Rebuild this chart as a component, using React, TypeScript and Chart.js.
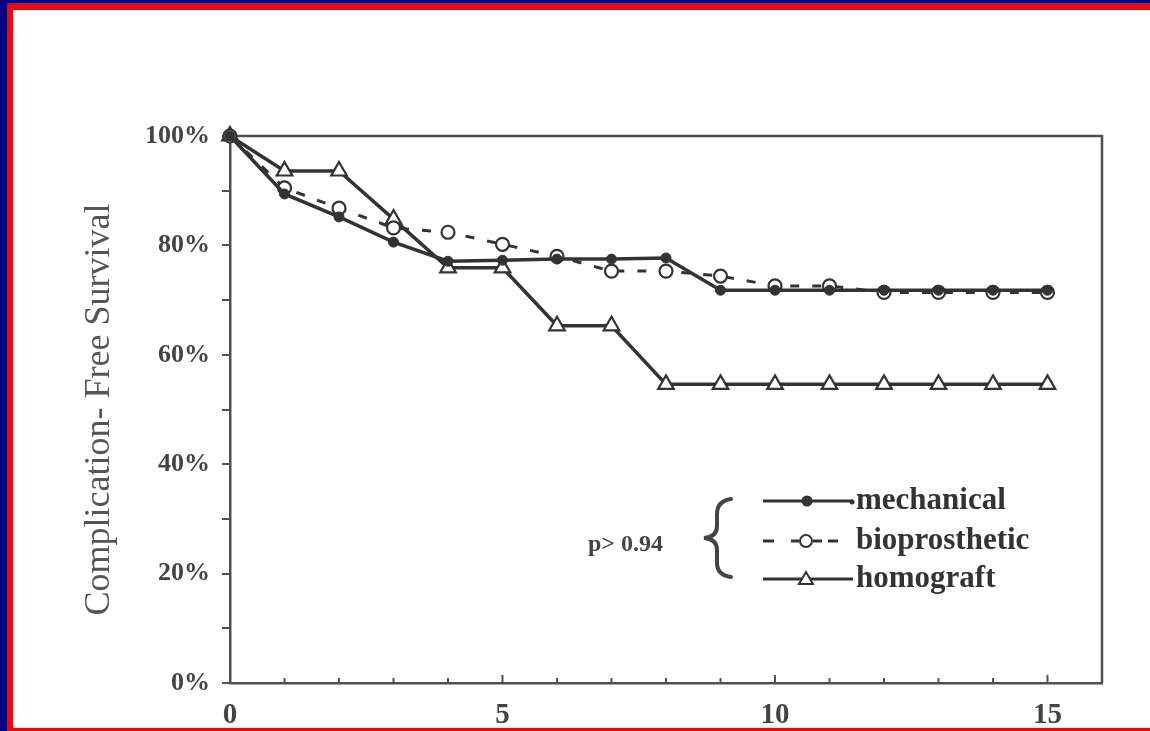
import React, { useEffect, useRef } from 'react';
import { Chart, registerables } from 'chart.js';

Chart.register(...registerables);

// ---- data ----
const years = [0, 1, 2, 3, 4, 5, 6, 7, 8, 9, 10, 11, 12, 13, 14, 15];
const mechanical = [100, 89.4, 85.2, 80.6, 77.1, 77.3, 77.5, 77.5, 77.7, 71.8, 71.8, 71.8, 71.8, 71.8, 71.8, 71.8];
const bioprosthetic = [100, 90.5, 86.8, 83.2, 82.4, 80.2, 78.0, 75.3, 75.3, 74.4, 72.6, 72.6, 71.4, 71.4, 71.4, 71.4];
const homograft = [100, 93.6, 93.6, 84.8, 75.9, 75.9, 65.3, 65.3, 54.6, 54.6, 54.6, 54.6, 54.6, 54.6, 54.6, 54.6];
const seriesNames = ['mechanical', 'bioprosthetic', 'homograft'];
const xLabelYears = [0, 5, 10, 15];
const yLabelValues = [0, 20, 40, 60, 80, 100];
const yAxisTitle = 'Complication- Free Survival';
const pValueText = 'p> 0.94';

const INK = '#333333';
const AXIS = '#505050';
const SERIF = '"Liberation Serif", "Times New Roman", serif';

const toPoints = (vals: number[]) => years.map((x, i) => ({ x, y: vals[i] }));

const boxAndTicks = {
  id: 'boxAndTicks',
  beforeDatasetsDraw(chart: any) {
    const { ctx, chartArea } = chart;
    const xs = chart.scales.x;
    ctx.save();
    ctx.strokeStyle = AXIS;
    ctx.lineWidth = 2.5;
    ctx.beginPath();
    ctx.moveTo(chartArea.left, chartArea.top);
    ctx.lineTo(chartArea.right, chartArea.top);
    ctx.lineTo(chartArea.right, chartArea.bottom);
    ctx.stroke();
    ctx.lineWidth = 2;
    for (let v = 1; v <= 15; v++) {
      const px = xs.getPixelForValue(v);
      const len = v % 5 === 0 ? 8 : 5;
      ctx.beginPath();
      ctx.moveTo(px, chartArea.bottom);
      ctx.lineTo(px, chartArea.bottom - len);
      ctx.stroke();
    }
    ctx.restore();
  },
};

const customLegend = {
  id: 'customLegend',
  afterDraw(chart: any) {
    const { ctx } = chart;
    ctx.save();
    // p value
    ctx.fillStyle = '#444';
    ctx.font = `bold 24px ${SERIF}`;
    ctx.textAlign = 'left';
    ctx.textBaseline = 'middle';
    ctx.fillText(pValueText, 588, 545);

    // brace
    ctx.strokeStyle = '#444';
    ctx.lineWidth = 4;
    ctx.lineCap = 'round';
    ctx.beginPath();
    ctx.moveTo(731, 499);
    ctx.quadraticCurveTo(717, 501, 717, 514);
    ctx.lineTo(717, 526);
    ctx.quadraticCurveTo(717, 537, 704, 538);
    ctx.quadraticCurveTo(717, 539, 717, 550);
    ctx.lineTo(717, 563);
    ctx.quadraticCurveTo(717, 575, 731, 577);
    ctx.stroke();

    const rows = [501, 541, 579];
    const x0 = 763;
    const x1 = 853;
    ctx.strokeStyle = INK;
    ctx.lineCap = 'butt';

    // mechanical
    ctx.lineWidth = 3;
    ctx.beginPath();
    ctx.moveTo(x0, rows[0]);
    ctx.lineTo(x1, rows[0]);
    ctx.stroke();
    ctx.fillStyle = INK;
    ctx.beginPath();
    ctx.arc(807, rows[0], 5.5, 0, Math.PI * 2);
    ctx.fill();
    ctx.beginPath();
    ctx.arc(852, rows[0] + 1, 2.5, 0, Math.PI * 2);
    ctx.fill();

    // bioprosthetic
    ctx.lineWidth = 3;
    const dashes = [[763, 774], [791, 799], [813, 822], [828, 838]];
    dashes.forEach(([a, b]) => {
      ctx.beginPath();
      ctx.moveTo(a, rows[1]);
      ctx.lineTo(b, rows[1]);
      ctx.stroke();
    });
    ctx.fillStyle = '#fff';
    ctx.lineWidth = 2;
    ctx.beginPath();
    ctx.arc(806, rows[1], 6, 0, Math.PI * 2);
    ctx.fill();
    ctx.stroke();

    // homograft
    ctx.lineWidth = 3;
    ctx.beginPath();
    ctx.moveTo(x0, rows[2]);
    ctx.lineTo(x1, rows[2]);
    ctx.stroke();
    ctx.fillStyle = '#fff';
    ctx.lineWidth = 2;
    ctx.beginPath();
    ctx.moveTo(806, rows[2] - 7);
    ctx.lineTo(813, rows[2] + 5);
    ctx.lineTo(799, rows[2] + 5);
    ctx.closePath();
    ctx.fill();
    ctx.stroke();

    // labels
    ctx.fillStyle = '#333';
    ctx.font = `bold 31px ${SERIF}`;
    ctx.textBaseline = 'middle';
    seriesNames.forEach((name, i) => ctx.fillText(name, 856, rows[i]));
    ctx.restore();
  },
};

export default function App() {
  const ref = useRef<HTMLCanvasElement | null>(null);

  useEffect(() => {
    if (!ref.current) return;
    const chart = new Chart(ref.current, {
      type: 'line',
      data: {
        datasets: [
          {
            label: seriesNames[0],
            data: toPoints(mechanical),
            borderColor: INK,
            backgroundColor: INK,
            borderWidth: 3.5,
            pointRadius: 5,
            pointBackgroundColor: INK,
            pointBorderColor: INK,
            pointBorderWidth: 1,
            clip: false,
          },
          {
            label: seriesNames[1],
            data: toPoints(bioprosthetic),
            borderColor: INK,
            borderWidth: 3,
            borderDash: [9, 13],
            pointRadius: 6.5,
            pointBackgroundColor: '#ffffff',
            pointBorderColor: INK,
            pointBorderWidth: 2.2,
            clip: false,
          },
          {
            label: seriesNames[2],
            data: toPoints(homograft),
            borderColor: INK,
            borderWidth: 3.5,
            pointStyle: 'triangle',
            pointRadius: 9,
            pointBackgroundColor: '#ffffff',
            pointBorderColor: INK,
            pointBorderWidth: 2.2,
            clip: false,
          },
        ],
      },
      options: {
        responsive: false,
        animation: false,
        devicePixelRatio: 1,
        layout: { padding: { top: 136, right: 48, left: 0, bottom: 0 } },
        plugins: { legend: { display: false }, tooltip: { enabled: false } },
        scales: {
          x: {
            type: 'linear',
            min: 0,
            max: 16,
            afterFit: (s: any) => { s.height = 48; },
            grid: { display: false },
            border: { display: true, color: AXIS, width: 2.5 },
            ticks: {
              stepSize: 1,
              autoSkip: false,
              maxRotation: 0,
              padding: 7,
              color: '#444',
              font: { family: SERIF, size: 29, weight: 'bold' },
              callback: (v: any) => (xLabelYears.includes(Number(v)) ? String(v) : ''),
            },
          },
          y: {
            min: 0,
            max: 100,
            afterFit: (s: any) => { s.width = 230; },
            grid: { drawOnChartArea: false, drawTicks: true, tickLength: 8, color: AXIS, lineWidth: 2 },
            border: { display: true, color: AXIS, width: 2.5 },
            title: {
              display: true,
              text: yAxisTitle,
              color: '#555',
              font: { family: SERIF, size: 36, weight: 'normal' },
              padding: { top: 78, bottom: 0 },
            },
            ticks: {
              stepSize: 10,
              autoSkip: false,
              padding: 12,
              color: '#444',
              font: { family: SERIF, size: 26, weight: 'bold' },
              callback: (v: any) => (yLabelValues.includes(Number(v)) ? `${v}%` : ''),
            },
          },
        },
      },
      plugins: [boxAndTicks, customLegend],
    } as any);
    return () => chart.destroy();
  }, []);

  const bar = (s: React.CSSProperties) => <div style={{ position: 'absolute', ...s }} />;

  return (
    <div style={{ position: 'fixed', left: 0, top: 0, width: 1150, height: 731, background: '#fff', overflow: 'hidden' }}>
      <canvas ref={ref} width={1150} height={731} style={{ position: 'absolute', left: 0, top: 0, display: 'block' }} />
      {bar({ left: 0, top: 0, width: 1150, height: 3, background: '#000080' })}
      {bar({ left: 0, top: 0, width: 7, height: 731, background: '#000080' })}
      {bar({ left: 7, top: 3, width: 1143, height: 7, background: '#ff0000' })}
      {bar({ left: 7, top: 3, width: 6, height: 728, background: '#ff0000' })}
      {bar({ left: 7, top: 728, width: 1143, height: 3, background: '#ff0000' })}
    </div>
  );
}
